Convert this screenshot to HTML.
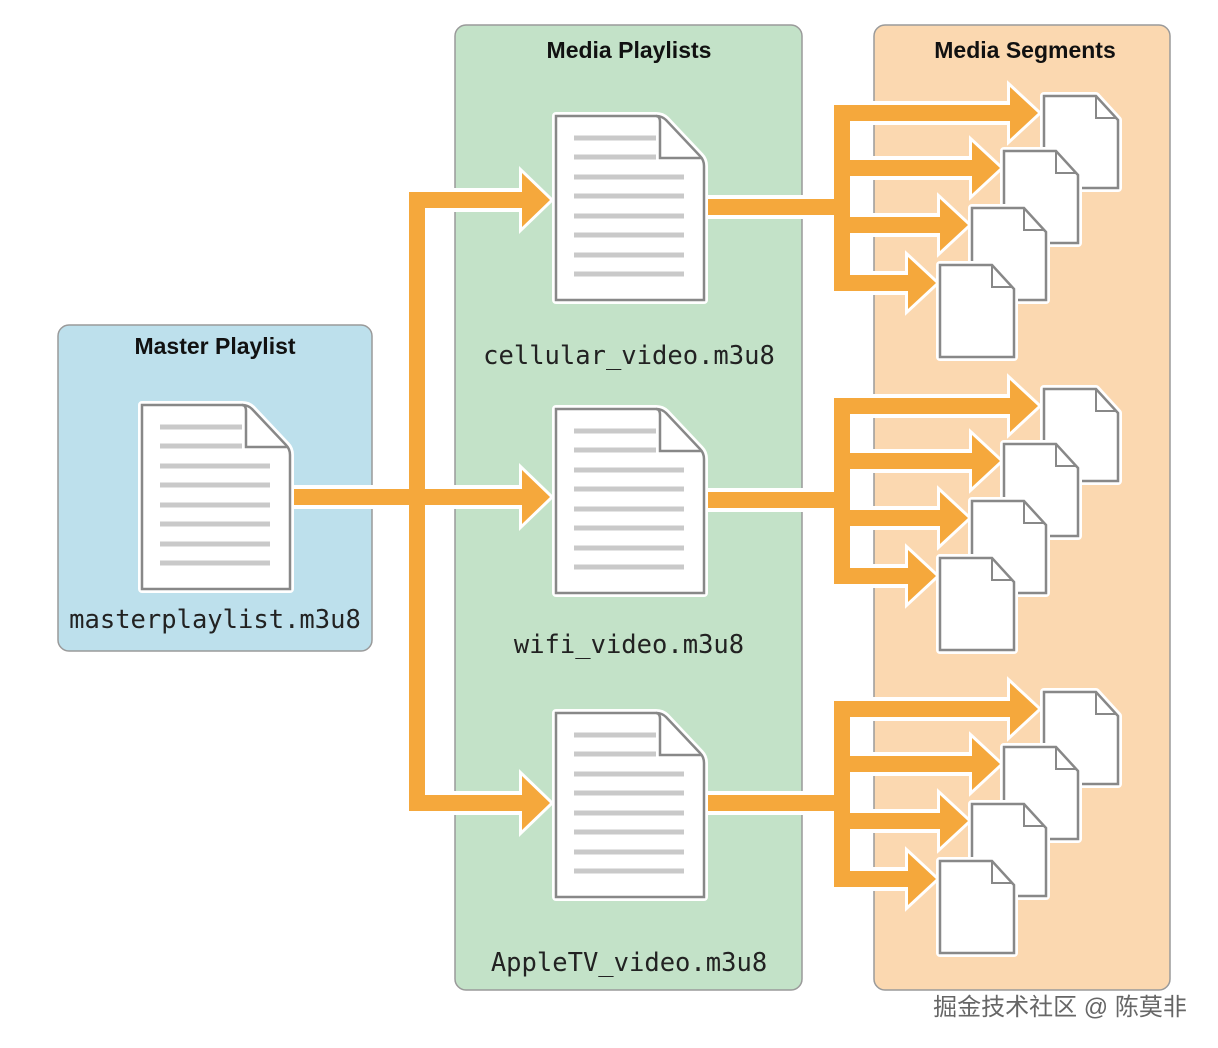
<!DOCTYPE html>
<html><head><meta charset="utf-8"><style>
html,body{margin:0;padding:0;background:#fff;}
svg{display:block;}
.t{font-family:"Liberation Sans",sans-serif;font-weight:bold;font-size:23px;fill:#111;text-anchor:middle;}
.m{font-family:"DejaVu Sans Mono","Liberation Mono",monospace;font-size:25.5px;fill:#222;text-anchor:middle;}
</style></head><body>
<svg width="1218" height="1048" viewBox="0 0 1218 1048" xmlns="http://www.w3.org/2000/svg">
<defs>
  <g id="bigdoc">
    <path d="M0,0 H100 Q106,0 110,4 L144,40 Q148,44 148,50 V184 H0 Z" fill="#fff" stroke="#fff" stroke-width="8" stroke-linejoin="round"/>
    <path d="M0,0 H100 Q106,0 110,4 L144,40 Q148,44 148,50 V184 H0 Z" fill="#fff" stroke="#888" stroke-width="2.5"/>
    <path d="M100,0 Q104,0 104,6 V42 H146" fill="none" stroke="#888" stroke-width="2.5"/>
    <g stroke="#c9c9c9" stroke-width="5">
      <path d="M18,22H100M18,41H100M18,61H128M18,80H128M18,100H128M18,119H128M18,139H128M18,158H128"/>
    </g>
  </g>
  <g id="seg">
    <path d="M0,0 H52 L74,24 V92 H0 Z" fill="#fff" stroke="#fff" stroke-width="8" stroke-linejoin="round"/>
    <path d="M0,0 H52 L74,24 V92 H0 Z" fill="#fff" stroke="#888" stroke-width="2.5"/>
    <path d="M52,0 V22 H73" fill="none" stroke="#888" stroke-width="2"/>
  </g>
  <g id="fan">
    <g stroke="#fff" stroke-width="24" fill="none">
      <path d="M706,207 H842 M842,113 V283 M842,113 H1010 M842,168 H972 M842,225 H940 M842,283 H908"/>
    </g>
    <g fill="#fff" stroke="#fff" stroke-width="6" stroke-linejoin="miter">
      <polygon points="1010,87 1038,113 1010,139"/>
      <polygon points="972,142 1000,168 972,194"/>
      <polygon points="940,199 968,225 940,251"/>
      <polygon points="908,257 936,283 908,309"/>
    </g>
    <g stroke="#f5a83c" stroke-width="16" fill="none">
      <path d="M706,207 H842 M842,105 V291 M834,113 H1012 M842,168 H974 M842,225 H942 M842,283 H910"/>
    </g>
    <g fill="#f5a83c">
      <polygon points="1010,87 1038,113 1010,139"/>
      <polygon points="972,142 1000,168 972,194"/>
      <polygon points="940,199 968,225 940,251"/>
      <polygon points="908,257 936,283 908,309"/>
    </g>
    <use href="#seg" x="1044" y="96"/>
    <use href="#seg" x="1004" y="151"/>
    <use href="#seg" x="972" y="208"/>
    <use href="#seg" x="940" y="265"/>
  </g>
</defs>

<rect x="58" y="325" width="314" height="326" rx="11" fill="#bde0ec" stroke="#9a9a9a" stroke-width="1.5"/>
<rect x="455" y="25" width="347" height="965" rx="11" fill="#c3e2c8" stroke="#9a9a9a" stroke-width="1.5"/>
<rect x="874" y="25" width="296" height="965" rx="11" fill="#fbd8b0" stroke="#9a9a9a" stroke-width="1.5"/>

<text class="t" x="215" y="354">Master Playlist</text>
<text class="t" x="629" y="58">Media Playlists</text>
<text class="t" x="1025" y="58">Media Segments</text>

<g stroke="#fff" stroke-width="24" fill="none">
  <path d="M290,497 H417 M417,200 V803 M417,200 H524 M417,497 H524 M417,803 H524"/>
</g>
<g fill="#fff" stroke="#fff" stroke-width="6">
  <polygon points="522,173 550,200 522,227"/>
  <polygon points="522,470 550,497 522,524"/>
  <polygon points="522,776 550,803 522,830"/>
</g>
<g stroke="#f5a83c" stroke-width="16" fill="none">
  <path d="M290,497 H417 M417,192 V811 M409,200 H526 M417,497 H526 M409,803 H526"/>
</g>
<g fill="#f5a83c">
  <polygon points="522,173 550,200 522,227"/>
  <polygon points="522,470 550,497 522,524"/>
  <polygon points="522,776 550,803 522,830"/>
</g>

<use href="#fan"/>
<use href="#fan" transform="translate(0,293)"/>
<use href="#fan" transform="translate(0,596)"/>

<use href="#bigdoc" x="142" y="405"/>
<use href="#bigdoc" x="556" y="116"/>
<use href="#bigdoc" x="556" y="409"/>
<use href="#bigdoc" x="556" y="713"/>

<text class="m" x="215" y="628">masterplaylist.m3u8</text>
<text class="m" x="629" y="364">cellular_video.m3u8</text>
<text class="m" x="629" y="653">wifi_video.m3u8</text>
<text class="m" x="629" y="971">AppleTV_video.m3u8</text>

<text x="1060" y="1015" font-family="'Liberation Sans','Noto Sans CJK SC',sans-serif" font-size="24" fill="#666" text-anchor="middle">掘金技术社区 @ 陈莫非</text>
</svg>
</body></html>
